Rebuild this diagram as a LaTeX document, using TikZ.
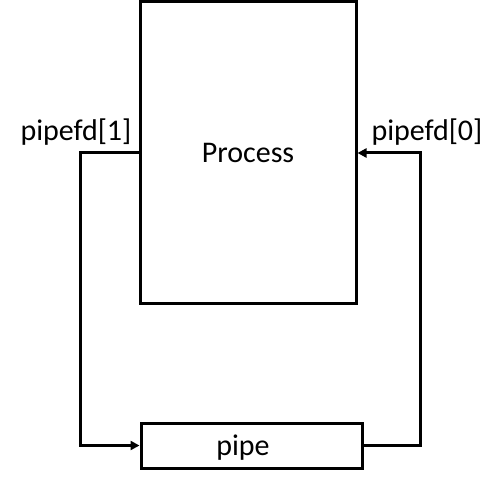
\documentclass[tikz,border=0pt]{standalone}
\usepackage{fontspec}
\setmainfont{Carlito}
\usetikzlibrary{arrows.meta}
\begin{document}
\begin{tikzpicture}[x=1pt,y=-1pt,
  box/.style={draw,line width=3pt,inner sep=0pt},
  conn/.style={line width=3pt,-{Triangle[length=9pt,width=9pt]}},
  lbl/.style={font=\fontsize{30}{33}\selectfont,inner sep=0pt,anchor=base}]
\useasboundingbox (0,0) rectangle (504,484);
\node[box,minimum width=216pt,minimum height=302pt] (proc) at (248,152.5) {};
\node[lbl] at (248,163) {Process};
\node[box,minimum width=221pt,minimum height=45pt] (pipe) at (251.5,445.5) {};
\node[lbl] at (243,455) {pipe};
\node[lbl] (l1) at (76,141) {pipefd[1]};
\node[lbl] (l0) at (427,141) {pipefd[0]};
\coordinate (a) at (80,153);
\coordinate (b) at (420,153);
\draw[conn] (proc.west |- a) -- (a) |- (pipe.west);
\draw[conn] (pipe.east) -| (b) -- (proc.east |- b);
\end{tikzpicture}
\end{document}
